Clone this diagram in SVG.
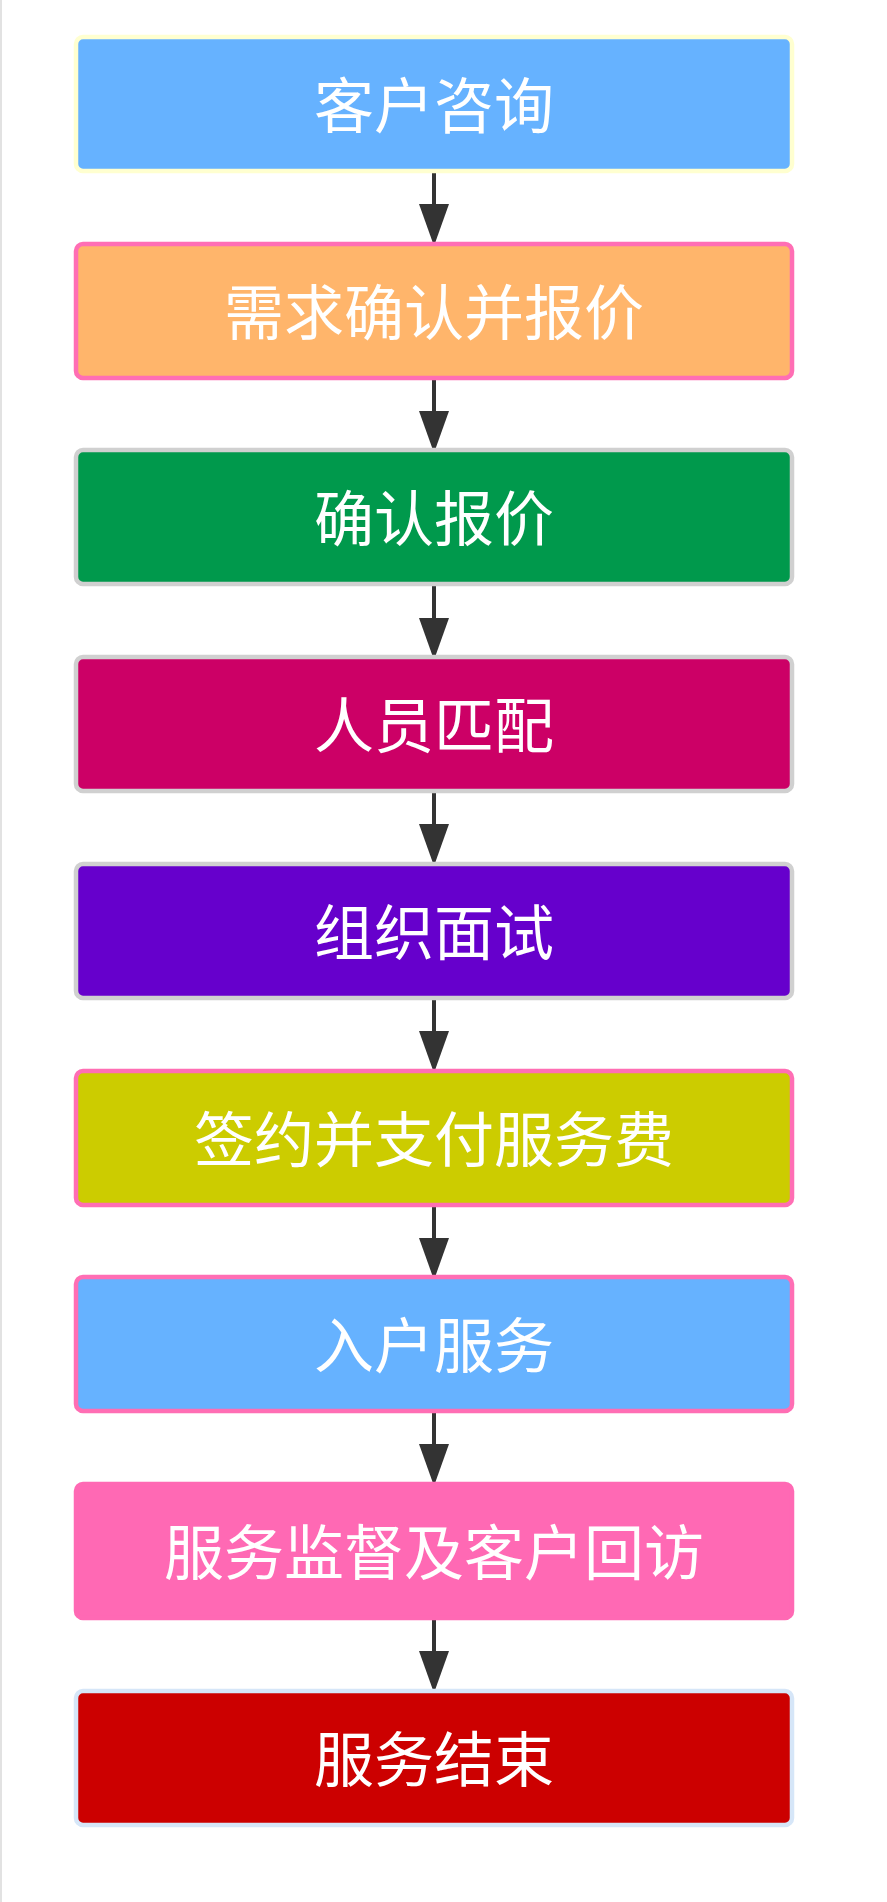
<svg xmlns="http://www.w3.org/2000/svg" width="887" height="1902" viewBox="0 0 887 1902">
<style>
.box{stroke-width:4.5}
.lbl{font-family:"Noto Sans CJK SC","Noto Sans",sans-serif;font-size:60px;fill:#ffffff;text-anchor:middle;dominant-baseline:central}
.edge{stroke:#333333;stroke-width:4;fill:none}
.head{fill:#333333}
</style>
<rect x="0" y="0" width="887" height="1902" fill="#ffffff"/>
<line x1="1" y1="0" x2="1" y2="1902" stroke="#e2e2e2" stroke-width="2"/>
<g id="connectors">
<line class="edge" x1="434" y1="172" x2="434" y2="205"/><polygon class="head" points="419,204 449,204 434,246"/>
<line class="edge" x1="434" y1="379" x2="434" y2="412"/><polygon class="head" points="419,411 449,411 434,453"/>
<line class="edge" x1="434" y1="586" x2="434" y2="619"/><polygon class="head" points="419,618 449,618 434,660"/>
<line class="edge" x1="434" y1="793" x2="434" y2="825"/><polygon class="head" points="419,824 449,824 434,866"/>
<line class="edge" x1="434" y1="999" x2="434" y2="1032"/><polygon class="head" points="419,1031 449,1031 434,1073"/>
<line class="edge" x1="434" y1="1206" x2="434" y2="1239"/><polygon class="head" points="419,1238 449,1238 434,1280"/>
<line class="edge" x1="434" y1="1413" x2="434" y2="1445"/><polygon class="head" points="419,1444 449,1444 434,1486"/>
<line class="edge" x1="434" y1="1620" x2="434" y2="1652"/><polygon class="head" points="419,1651 449,1651 434,1693"/>
</g>
<g id="n1"><rect class="box" x="76" y="37" width="716" height="134" rx="7" fill="#66b2ff" stroke="#ffffd0"/><text class="lbl" x="434" y="101">客户咨询</text></g>
<g id="n2"><rect class="box" x="76" y="244" width="716" height="134" rx="7" fill="#ffb56b" stroke="#ff6eb4"/><text class="lbl" x="434" y="308">需求确认并报价</text></g>
<g id="n3"><rect class="box" x="76" y="450" width="716" height="134" rx="7" fill="#00994c" stroke="#d0d0d0"/><text class="lbl" x="434" y="514">确认报价</text></g>
<g id="n4"><rect class="box" x="76" y="657" width="716" height="134" rx="7" fill="#cc0066" stroke="#d0d0d0"/><text class="lbl" x="434" y="721">人员匹配</text></g>
<g id="n5"><rect class="box" x="76" y="864" width="716" height="134" rx="7" fill="#6600cc" stroke="#d0d0d0"/><text class="lbl" x="434" y="928">组织面试</text></g>
<g id="n6"><rect class="box" x="76" y="1071" width="716" height="134" rx="7" fill="#cccc00" stroke="#ff6eb4"/><text class="lbl" x="434" y="1135">签约并支付服务费</text></g>
<g id="n7"><rect class="box" x="76" y="1277" width="716" height="134" rx="7" fill="#66b2ff" stroke="#ff6eb4"/><text class="lbl" x="434" y="1341">入户服务</text></g>
<g id="n8"><rect class="box" x="76" y="1484" width="716" height="134" rx="7" fill="#ff69b4" stroke="#ff69b4"/><text class="lbl" x="434" y="1548">服务监督及客户回访</text></g>
<g id="n9"><rect class="box" x="76" y="1691" width="716" height="134" rx="7" fill="#cc0000" stroke="#d6e6f8"/><text class="lbl" x="434" y="1755">服务结束</text></g>
</svg>
